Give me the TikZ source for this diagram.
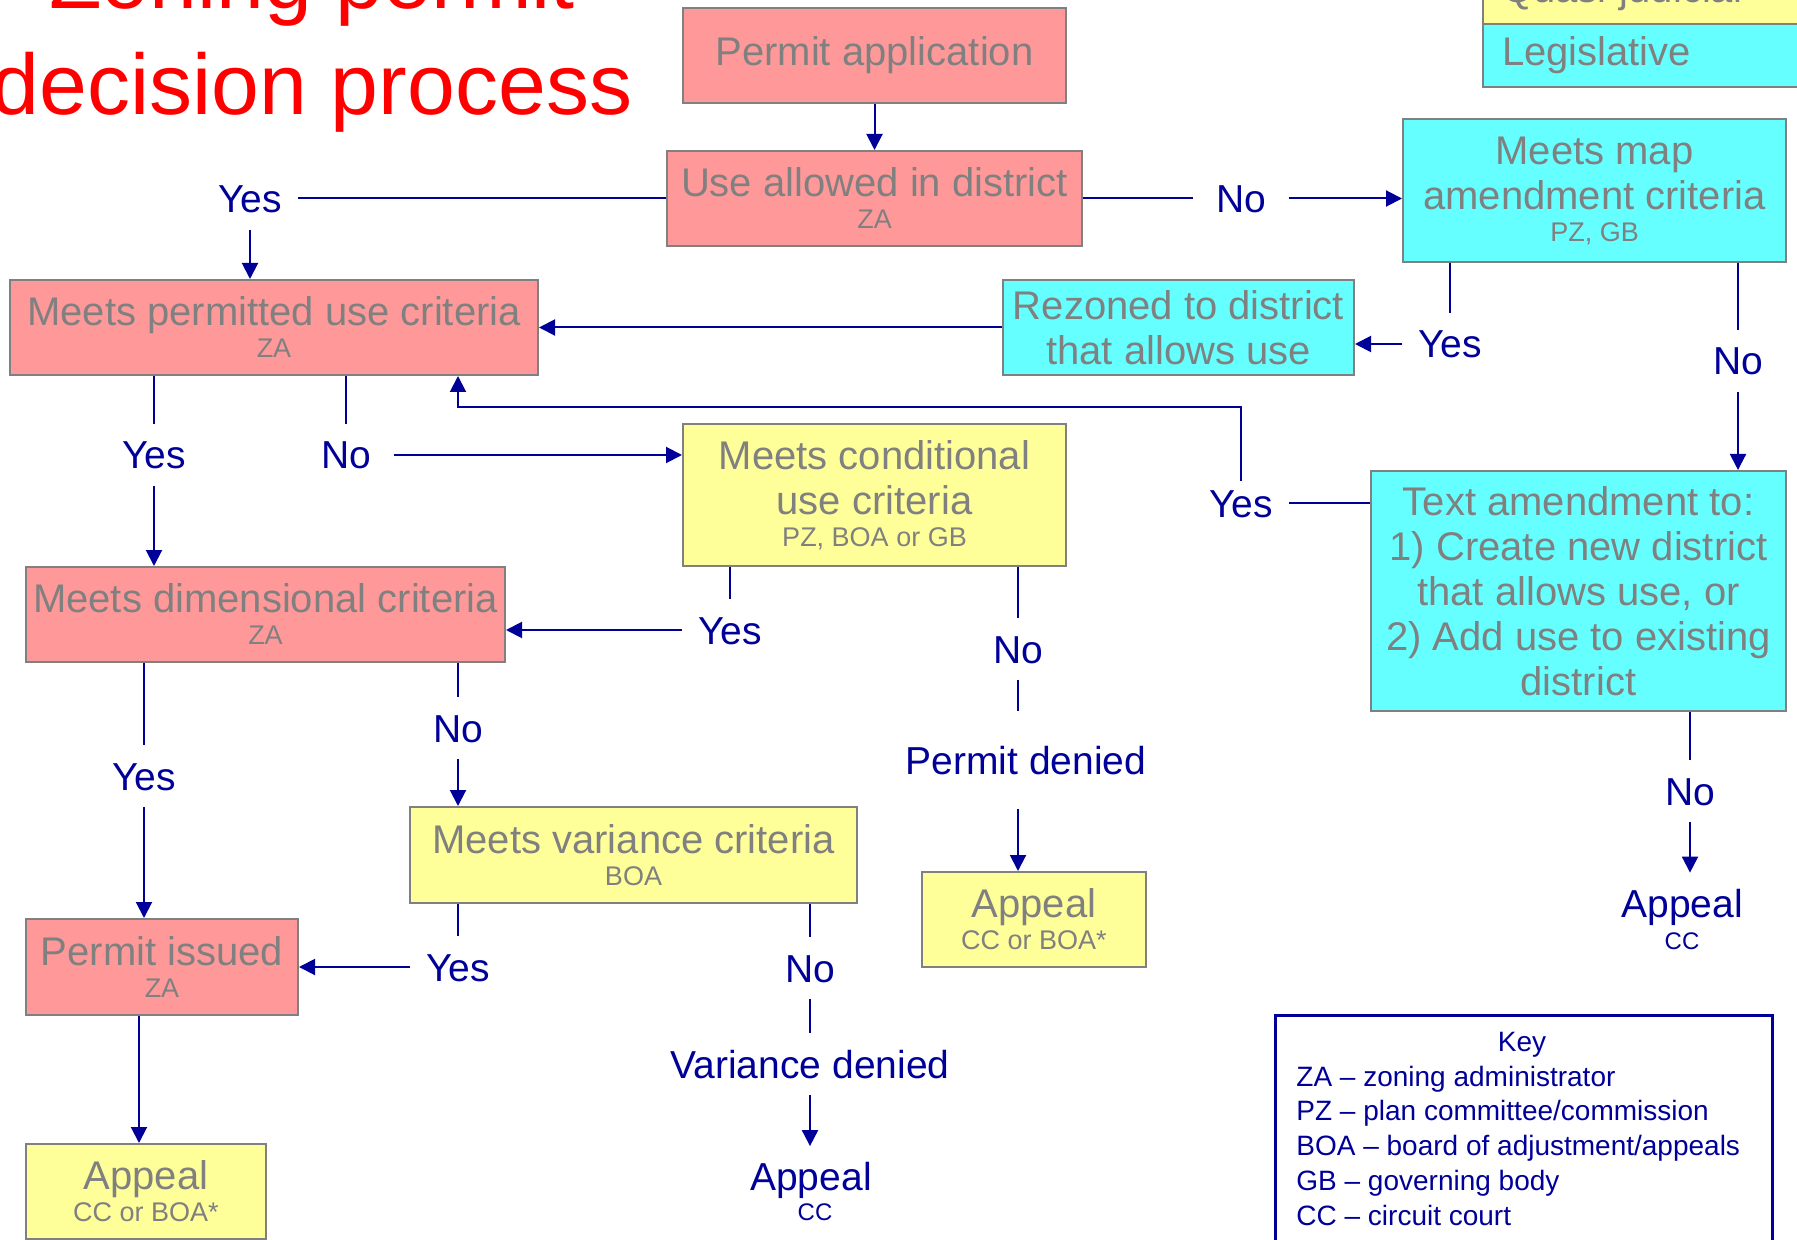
\documentclass[tikz,border=0pt]{standalone}
\usepackage{fontspec}
\setmainfont{Liberation Sans}
\usetikzlibrary{arrows.meta}
\definecolor{permpink}{HTML}{FF9999}
\definecolor{quasiyellow}{HTML}{FFFF99}
\definecolor{legcyan}{HTML}{66FFFF}
\definecolor{boxgray}{HTML}{808080}
\definecolor{flowblue}{HTML}{000099}
\newcommand{\who}[1]{\\[-6.5pt]{\fontsize{13.5}{16}\selectfont #1}}
\begin{document}
\begin{tikzpicture}[x=0.5pt,y=-0.5pt,
  flowbox/.style={draw=boxgray, line width=1pt, text=boxgray, align=center,
    font=\fontsize{20}{22.5}\selectfont, inner sep=0pt},
  legbox/.style={draw=boxgray, line width=1pt, text=boxgray, align=left,
    font=\fontsize{20}{22.5}\selectfont, text width=144.5pt, inner xsep=9.5pt,
    minimum height=31.5pt},
  answer/.style={text=flowblue, font=\fontsize{19.5}{22}\selectfont, minimum width=48pt,
    text height=14pt, text depth=0pt, inner xsep=0pt, inner ysep=8.5pt},
  small/.style={text=flowblue, font=\fontsize{12}{14}\selectfont, inner sep=0pt},
  titletext/.style={text=red, font=\fontsize{43}{50}\selectfont},
  joinline/.style={draw=flowblue, line width=1pt},
  flow/.style={draw=flowblue, line width=1pt, -{Triangle[length=8pt,width=8pt]}}]
\useasboundingbox (0,0) rectangle (1797,1240);
\clip (0,0) rectangle (1797,1240);

% title and legend
\node[titletext, anchor=base] (title1) at (312,9) {Zoning permit};
\node[titletext, anchor=base] (title2) at (312,115) {decision process};
\node[legbox, fill=quasiyellow] (quasi) at (1646.5,-7.5) {Quasi judicial};
\node[legbox, fill=legcyan] (legis) at (1646.5,55.5) {Legislative};

% boxes
\node[flowbox, fill=permpink, minimum width=191.5pt, minimum height=47.5pt] (app) at (874.5,55.5) {Permit application};
\node[flowbox, fill=permpink, minimum width=207.5pt, minimum height=47.5pt] (use) at (874.5,198.5) {Use allowed in district\who{ZA}};
\node[flowbox, fill=legcyan, minimum width=191.5pt, minimum height=71.5pt] (map) at (1594.5,190.5) {Meets map\\amendment criteria\who{PZ, GB}};
\node[flowbox, fill=legcyan, minimum width=175.5pt, minimum height=47.5pt] (rez) at (1178.5,327.5) {Rezoned to district\\that allows use};
\node[flowbox, fill=permpink, minimum width=264pt, minimum height=47.5pt] (perm) at (274,327.5) {Meets permitted use criteria\who{ZA}};
\node[flowbox, fill=quasiyellow, minimum width=191.5pt, minimum height=71pt] (cond) at (874.5,495) {Meets conditional\\use criteria\who{PZ, BOA or GB}};
\node[flowbox, fill=legcyan, minimum width=207.5pt, minimum height=120pt] (amend) at (1578.5,591) {Text amendment to:\\1) Create new district\\that allows use, or\\2) Add use to existing\\district};
\node[flowbox, fill=permpink, minimum width=239.5pt, minimum height=47.5pt] (dim) at (265.5,614.5) {Meets dimensional criteria\who{ZA}};
\node[flowbox, fill=quasiyellow, minimum width=223.5pt, minimum height=48pt] (var) at (633.5,855) {Meets variance criteria\who{BOA}};
\node[flowbox, fill=quasiyellow, minimum width=112pt, minimum height=47.5pt] (appA) at (1034,919.5) {Appeal\who{CC or BOA*}};
\node[flowbox, fill=permpink, minimum width=136pt, minimum height=48pt] (iss) at (162,967) {Permit issued\who{ZA}};
\node[flowbox, fill=quasiyellow, minimum width=120pt, minimum height=47.5pt] (appB) at (146,1191.5) {Appeal\who{CC or BOA*}};

% answers
\node[answer] (y1) at (250,198.5) {Yes};
\node[answer] (n1) at (1241,198.5) {No};
\node[answer] (y2) at (1450,344) {Yes};
\node[answer] (n2) at (1738,361) {No};
\node[answer] (y3) at (1241,503) {Yes};
\node[answer] (y4) at (154,455) {Yes};
\node[answer] (n3) at (346,455) {No};
\node[answer] (y5) at (730,630) {Yes};
\node[answer] (n4) at (1018,649) {No};
\node[answer, inner ysep=17.5pt] (pd) at (1026,760) {Permit denied};
\node[answer] (y6) at (144,776) {Yes};
\node[answer] (n5) at (458,728) {No};
\node[answer] (y7) at (458,967) {Yes};
\node[answer] (n6) at (810,968) {No};
\node[answer] (vd) at (810,1064) {Variance denied};
\node[answer, inner ysep=8pt] (ap1) at (811,1176.5) {Appeal};
\node[small] (cc1) at (815,1212) {CC};
\node[answer] (n7) at (1690,791) {No};
\node[answer, inner ysep=8pt] (ap2) at (1682,903) {Appeal};
\node[small] (cc2) at (1682,941) {CC};

% connectors
\draw[flow] (app) -- (use);
\draw[joinline] (use) -- (y1);
\draw[flow] (y1) -- (y1 |- perm.north);
\draw[joinline] (use) -- (n1);
\draw[flow] (n1) -- (n1 -| map.west);
\draw[joinline] (y2 |- map.south) -- (y2.north);
\draw[flow] (y2.west) -- (y2 -| rez.east);
\draw[joinline] (n2 |- map.south) -- (n2.north);
\draw[flow] (n2) -- (n2 |- amend.north);
\draw[flow] (rez) -- (perm);
\draw[joinline] (y3) -- (y3 -| amend.west);
\coordinate (back) at (458,407);
\draw[flow] ([yshift=-4.5pt]y3.north) |- (back) -- (back |- perm.south);
\draw[joinline] (y4 |- perm.south) -- (y4.north);
\draw[flow] (y4) -- (y4 |- dim.north);
\draw[joinline] (n3 |- perm.south) -- (n3.north);
\draw[flow] (n3) -- (n3 -| cond.west);
\draw[joinline] (y5 |- cond.south) -- (y5.north);
\draw[flow] (y5) -- (y5 -| dim.east);
\draw[joinline] (n4 |- cond.south) -- (n4.north);
\draw[joinline] (n4.south) -- (n4 |- pd.north);
\draw[flow] (n4 |- pd.south) -- (n4 |- appA.north);
\draw[joinline] (y6 |- dim.south) -- (y6.north);
\draw[flow] (y6) -- (y6 |- iss.north);
\draw[joinline] (n5 |- dim.south) -- (n5.north);
\draw[flow] (n5) -- (n5 |- var.north);
\draw[joinline] (y7 |- var.south) -- (y7.north);
\draw[flow] (y7) -- (y7 -| iss.east);
\draw[joinline] (n6 |- var.south) -- (n6.north);
\draw[joinline] (n6.south) -- (n6 |- vd.north);
\draw[flow] (vd) -- (vd |- ap1.north);
\draw[flow] ([xshift=-11.5pt]iss.south) -- ([xshift=-11.5pt]iss.south |- appB.north);
\draw[joinline] (n7 |- amend.south) -- (n7.north);
\draw[flow] (n7) -- (n7 |- ap2.north);

% key
\node[draw=flowblue, line width=1.5pt, anchor=north west, minimum width=248.5pt, minimum height=150pt] (key) at (1274,1014) {};
\node[text=flowblue, font=\fontsize{14}{17}\selectfont] (keyt) at (1522,1045) {Key};
\foreach \ab/\txt [count=\i] in {ZA/zoning administrator, PZ/plan committee\slash commission,
    BOA/board of adjustment\slash appeals, GB/governing body, CC/circuit court}
  \node[text=flowblue, font=\fontsize{14}{17}\selectfont, anchor=base west, inner sep=0pt] (k\i)
    at (1296,1086+34.75*\i-34.75) {\ab{} – \txt};
\end{tikzpicture}
\end{document}
